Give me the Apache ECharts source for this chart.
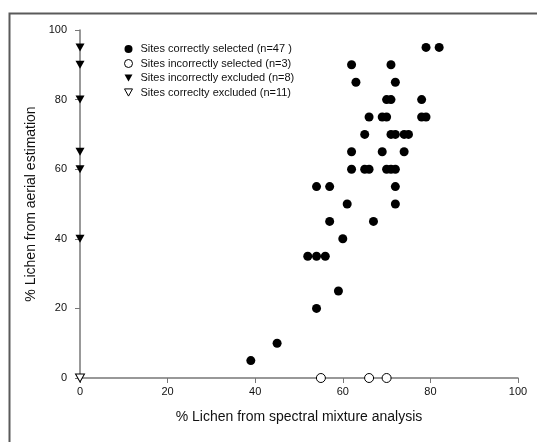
<!DOCTYPE html>
<html><head><meta charset="utf-8">
<script src="https://cdn.jsdelivr.net/npm/echarts@6/dist/echarts.min.js"></script>
<style>html,body{margin:0;padding:0;background:#fff}#c{width:537px;height:442px}</style>
</head><body><div id="c"></div>
<script>
const xTicks = [0, 20, 40, 60, 80, 100];
const yTicks = [0, 20, 40, 60, 80, 100];
const seriesNames = [
  'Sites correctly selected (n=47 )',
  'Sites incorrectly selected (n=3)',
  'Sites incorrectly excluded (n=8)',
  'Sites correclty excluded (n=11)'
];
const correctlySelected = [
  [79,95],[82,95],[62,90],[71,90],[63,85],[72,85],
  [70,80],[71,80],[78,80],[66,75],[69,75],[70,75],[78,75],[79,75],
  [65,70],[71,70],[72,70],[74,70],[75,70],
  [62,65],[69,65],[74,65],
  [62,60],[65,60],[66,60],[70,60],[71,60],[72,60],
  [54,55],[57,55],[72,55],[61,50],[72,50],[57,45],[67,45],[60,40],
  [52,35],[54,35],[56,35],[59,25],[54,20],[45,10],[39,5]
];
const incorrectlySelected = [[55,0],[66,0],[70,0]];
const incorrectlyExcluded = [[0,95],[0,90],[0,80],[0,65],[0,60],[0,40]];
const correctlyExcluded = [[0,0]];

const downTri = 'path://M0,0L10,0L5,9Z';
const chart = echarts.init(document.getElementById('c'));
const font = 'Arial, "Liberation Sans", sans-serif';
chart.setOption({
  animation: false,
  graphic: [{
    type: 'rect', left: 7, top: 11, z: 0, silent: true,
    shape: {width: 540, height: 440},
    style: {fill: 'none', stroke: '#5a5a5a', lineWidth: 2}
  }],
  grid: {left: 80, right: 19, top: 30, bottom: 64, containLabel: false},
  legend: {
    orient: 'vertical', left: 119, top: 38,
    itemWidth: 8, itemHeight: 8, itemGap: 2.5,
    textStyle: {fontFamily: font, fontSize: 11, color: '#111', lineHeight: 12, padding: [0,0,0,3]},
    data: [
      {name: seriesNames[0], itemStyle: {opacity: 1, borderWidth: 0}},
      {name: seriesNames[1], itemStyle: {opacity: 1, borderWidth: 1}},
      {name: seriesNames[2], itemStyle: {opacity: 1, borderWidth: 0}},
      {name: seriesNames[3], itemStyle: {opacity: 1, borderWidth: 1}}
    ]
  },
  xAxis: {
    type: 'value', min: 0, max: 100, interval: 20,
    name: '% Lichen from spectral mixture analysis', nameLocation: 'middle', nameGap: 32,
    nameTextStyle: {fontFamily: font, fontSize: 14, color: '#111'},
    axisLine: {show: true, onZero: false, lineStyle: {color: '#777', width: 1.5}},
    axisTick: {show: true, length: 5, lineStyle: {color: '#777', width: 1}},
    axisLabel: {fontFamily: font, fontSize: 11, color: '#111', margin: 8},
    splitLine: {show: false}
  },
  yAxis: {
    type: 'value', min: 0, max: 100, interval: 20,
    name: '% Lichen from aerial estimation', nameLocation: 'middle', nameGap: 40,
    nameTextStyle: {fontFamily: font, fontSize: 14, color: '#111'},
    axisLine: {show: true, onZero: false, lineStyle: {color: '#777', width: 1.5}},
    axisTick: {show: true, length: 5, lineStyle: {color: '#777', width: 1}},
    axisLabel: {fontFamily: font, fontSize: 11, color: '#111', margin: 13},
    splitLine: {show: false}
  },
  series: [
    {name: seriesNames[0], type: 'scatter', data: correctlySelected, symbol: 'circle', symbolSize: 9,
     itemStyle: {color: '#000', opacity: 1}, z: 5},
    {name: seriesNames[1], type: 'scatter', data: incorrectlySelected, symbol: 'circle', symbolSize: 9,
     itemStyle: {color: '#fff', borderColor: '#000', borderWidth: 1, opacity: 1}, z: 5},
    {name: seriesNames[2], type: 'scatter', data: incorrectlyExcluded, symbol: downTri, symbolSize: [9, 8],
     itemStyle: {color: '#000', opacity: 1}, z: 5},
    {name: seriesNames[3], type: 'scatter', data: correctlyExcluded, symbol: downTri, symbolSize: [9, 8],
     itemStyle: {color: '#fff', borderColor: '#000', borderWidth: 1, opacity: 1}, z: 5}
  ]
});
</script></body></html>
